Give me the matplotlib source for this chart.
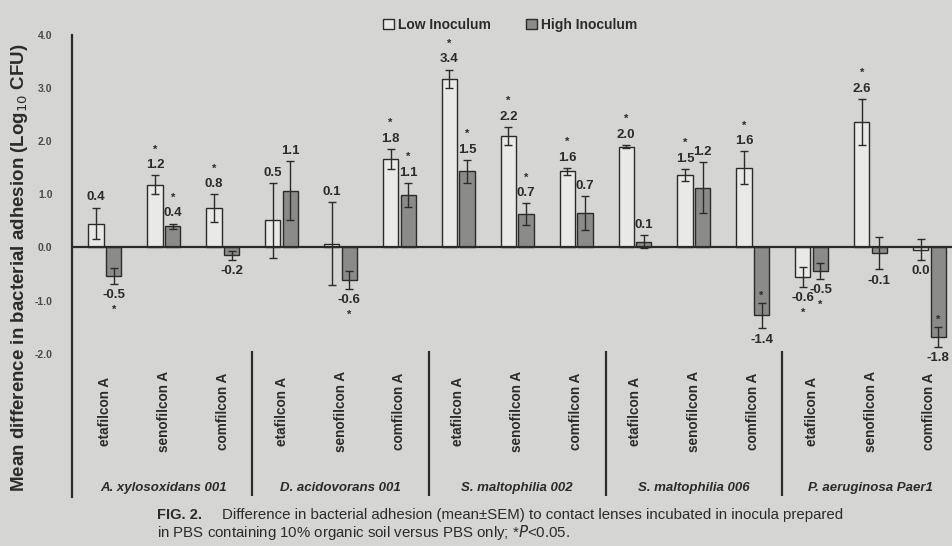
import matplotlib
matplotlib.use("Agg")
import matplotlib.pyplot as plt
from matplotlib.patches import Patch
import numpy as np

plt.rcParams['font.family'] = ['Liberation Sans', 'DejaVu Sans']

lenses = ["etafilcon A", "senofilcon A", "comfilcon A"] * 5
organisms = ["A. xylosoxidans 001", "D. acidovorans 001", "S. maltophilia 002",
             "S. maltophilia 006", "P. aeruginosa Paer1"]

low_vals = [0.45, 1.18, 0.74, 0.51, 0.07, 1.66, 3.18, 2.10, 1.43, 1.90, 1.37, 1.50, -0.55, 2.36, -0.04]
low_err = [0.30, 0.18, 0.26, 0.70, 0.78, 0.19, 0.17, 0.17, 0.07, 0.03, 0.11, 0.31, 0.19, 0.44, 0.19]
high_vals = [-0.53, 0.40, -0.15, 1.07, -0.61, 0.99, 1.43, 0.63, 0.65, 0.11, 1.12, -1.28, -0.44, -0.11, -1.68]
high_err = [0.15, 0.05, 0.08, 0.55, 0.17, 0.22, 0.22, 0.20, 0.32, 0.12, 0.48, 0.24, 0.15, 0.30, 0.19]
low_labels = ["0.4", "1.2", "0.8", "0.5", "0.1", "1.8", "3.4", "2.2", "1.6", "2.0", "1.5", "1.6", "-0.6", "2.6", "0.0"]
high_labels = ["-0.5", "0.4", "-0.2", "1.1", "-0.6", "1.1", "1.5", "0.7", "0.7", "0.1", "1.2", "-1.4", "-0.5", "-0.1", "-1.8"]
low_sig = [0, 1, 1, 0, 0, 1, 1, 1, 1, 1, 1, 1, 1, 1, 0]
high_sig = [1, 1, 0, 0, 1, 1, 1, 1, 0, 0, 0, 1, 1, 0, 1]

yticks = [4.0, 3.0, 2.0, 1.0, 0.0, -1.0, -2.0]
ytick_labels = ["4.0", "3.0", "2.0", "1.0", "0.0", "-1.0", "-2.0"]

BG = '#d5d5d3'
INK = '#2b2b2b'
LOW_C = '#e9e9e7'
HIGH_C = '#8b8b89'

fig = plt.figure(figsize=(9.53, 5.46), dpi=100, facecolor=BG)
W, H = 953, 546
ax = fig.add_axes([72 / W, 1 - 497 / H, 1 - 72 / W, (497 - 35) / H])
ax.set_facecolor(BG)

x = np.arange(len(lenses))
bw = 0.26
off = 0.15

ax.bar(x - off, low_vals, bw, color=LOW_C, edgecolor=INK, linewidth=1.0, zorder=2)
ax.bar(x + off, high_vals, bw, color=HIGH_C, edgecolor=INK, linewidth=1.0, zorder=2)
ax.errorbar(x - off, low_vals, yerr=low_err, fmt='none', ecolor=INK, elinewidth=1.0,
            capsize=3, capthick=1.0, zorder=3)
ax.errorbar(x + off, high_vals, yerr=high_err, fmt='none', ecolor=INK, elinewidth=1.0,
            capsize=3, capthick=1.0, zorder=3)

ax.axhline(0, color=INK, lw=1.6, zorder=4)


def annotate(xpos, v, e, lab, sig):
    if v >= 0:
        top = v + e
        ax.annotate(lab, (xpos, top), xytext=(0, 3), textcoords='offset points',
                    ha='center', va='bottom', fontsize=9.5, fontweight='bold', color=INK)
        if sig:
            ax.annotate('*', (xpos, top), xytext=(0, 15), textcoords='offset points',
                        ha='center', va='bottom', fontsize=8, fontweight='bold', color=INK)
    else:
        bot = v - e
        ax.annotate(lab, (xpos, bot), xytext=(0, -4), textcoords='offset points',
                    ha='center', va='top', fontsize=9.5, fontweight='bold', color=INK)
        if sig:
            if v < -1.0:
                ax.annotate('*', (xpos, v + e), xytext=(0, 1), textcoords='offset points',
                            ha='center', va='bottom', fontsize=8, fontweight='bold', color=INK)
            else:
                ax.annotate('*', (xpos, bot), xytext=(0, -15), textcoords='offset points',
                            ha='center', va='top', fontsize=8, fontweight='bold', color=INK)


for i in range(len(x)):
    annotate(x[i] - off, low_vals[i], low_err[i], low_labels[i], low_sig[i])
    annotate(x[i] + off, high_vals[i], high_err[i], high_labels[i], high_sig[i])

ax.set_xlim(-0.56, 14.4)
ax.set_ylim(-4.7, 4.0)
ax.set_yticks(yticks)
ax.set_yticklabels(ytick_labels)
ax.tick_params(axis='y', length=0, pad=14, labelsize=7.5, labelcolor='#4a4a4a')
for lbl in ax.get_yticklabels():
    lbl.set_fontweight('bold')
ax.set_xticks([])
for s in ['top', 'right', 'bottom']:
    ax.spines[s].set_visible(False)
ax.spines['left'].set_color(INK)
ax.spines['left'].set_linewidth(1.6)

# lens labels
for i, name in enumerate(lenses):
    ax.text(x[i], -3.08, name, rotation=90, ha='center', va='center', fontsize=9.8,
            fontweight='bold', color=INK)

# organism group labels and separators
for g, org in enumerate(organisms):
    ax.text(3 * g + 1, -4.53, org, ha='center', va='center', fontsize=9.5,
            fontweight='bold', fontstyle='italic', color=INK)
ax.vlines([2.5, 5.5, 8.5, 11.5], -4.68, -1.95, color=INK, lw=1.6)

# y label
fig.text(20 / W, 1 - 268 / H, 'Mean difference in bacterial adhesion (Log$_{10}$ CFU)',
         rotation=90, ha='center', va='center', fontsize=13.5, fontweight='bold', color=INK)

# legend
handles = [Patch(facecolor=LOW_C, edgecolor=INK, label='Low Inoculum'),
           Patch(facecolor=HIGH_C, edgecolor=INK, label='High Inoculum')]
leg = fig.legend(handles=handles, loc='center', bbox_to_anchor=(510 / W, 1 - 25 / H), ncol=2,
                 frameon=False, prop={'weight': 'bold', 'size': 10}, handlelength=0.8,
                 handleheight=0.8, handletextpad=0.3, columnspacing=2.5)
for t in leg.get_texts():
    t.set_color(INK)

# caption
fig.text(157 / W, 1 - 515 / H, 'FIG. 2.', ha='left', va='center', fontsize=10.5,
         fontweight='bold', color=INK)
fig.text(222 / W, 1 - 515 / H,
         'Difference in bacterial adhesion (mean\u00b1SEM) to contact lenses incubated in inocula prepared',
         ha='left', va='center', fontsize=10.8, color=INK)
fig.text(157 / W, 1 - 533 / H,
         'in PBS containing 10% organic soil versus PBS only; *$P$<0.05.',
         ha='left', va='center', fontsize=10.8, color=INK)

fig.savefig('out.png', dpi=100, facecolor=BG)
